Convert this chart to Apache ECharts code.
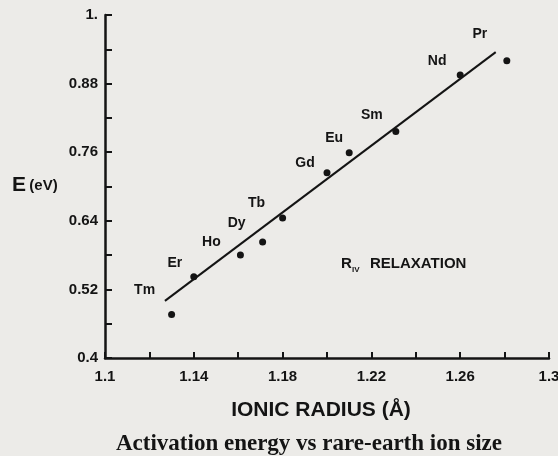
<!DOCTYPE html>
<html>
<head>
<meta charset="utf-8">
<title>Activation energy vs rare-earth ion size</title>
<script src="https://cdn.jsdelivr.net/npm/echarts@6.0.0/dist/echarts.min.js"></script>
<style>
  html, body { margin: 0; padding: 0; background: #ecebe8; }
  #chart { width: 558px; height: 456px; }
</style>
</head>
<body>
<div id="chart"></div>
<script>
// rare-earth ions, left to right along the fit
var ions = ['Tm', 'Er', 'Ho', 'Dy', 'Tb', 'Gd', 'Eu', 'Sm', 'Nd', 'Pr'];
// ionic radius (Å)
var radius = [1.130, 1.140, 1.161, 1.171, 1.180, 1.200, 1.210, 1.231, 1.260, 1.281];
// activation energy E (eV)
var energy = [0.476, 0.542, 0.580, 0.603, 0.645, 0.724, 0.759, 0.796, 0.895, 0.920];
// straight fit, its two end points
var fitRadius = [1.127, 1.276];
var fitEnergy = [0.500, 0.935];
// labelled ticks
var xTicks = [1.1, 1.14, 1.18, 1.22, 1.26, 1.3];
var yTicks = [0.4, 0.52, 0.64, 0.76, 0.88, 1];

// where each ion name sits from its dot (px)
var labelOffset = [[-27, -24], [-19, -14], [-29, -13], [-26, -19], [-26, -15],
                   [-22, -10], [-15, -15], [-24, -16], [-23, -14], [-27, -27]];

var ink = '#141414';
var font = '"Liberation Sans", Arial, sans-serif';

// axes run in hundredths from the lowest tick so the tick steps stay whole numbers
var X0 = xTicks[0], Y0 = yTicks[0];
function sx(v) { return Math.round((v - X0) * 100000) / 1000; }
function sy(v) { return Math.round((v - Y0) * 100000) / 1000; }

function tickText(list, base, v) {
  var real = Math.round((base + v / 100) * 100) / 100;
  for (var i = 0; i < list.length; i++) {
    if (Math.abs(list[i] - real) < 1e-6) {
      return real === 1 ? '1.' : String(real);
    }
  }
  return '';
}

var chart = echarts.init(document.getElementById('chart'), null, { renderer: 'canvas' });

var points = ions.map(function (name, i) {
  return {
    name: name,
    value: [sx(radius[i]), sy(energy[i])],
    label: { offset: labelOffset[i] }
  };
});

chart.setOption({
  backgroundColor: '#ecebe8',
  animation: false,
  grid: { left: 105, right: 9, top: 15, bottom: 98, containLabel: false, outerBoundsMode: 'none' },
  xAxis: {
    type: 'value',
    min: 0,
    max: sx(xTicks[xTicks.length - 1]),
    interval: 2,
    axisLine: { show: true, onZero: false, lineStyle: { color: ink, width: 2.5 } },
    axisTick: { show: true, inside: true, length: 6, lineStyle: { color: ink, width: 2 } },
    splitLine: { show: false },
    axisLabel: {
      showMinLabel: true, showMaxLabel: true,
      margin: 11,
      color: ink, fontSize: 15, fontWeight: 'bold', fontFamily: font,
      formatter: function (v) { return tickText(xTicks, X0, v); }
    }
  },
  yAxis: {
    type: 'value',
    min: 0,
    max: sy(yTicks[yTicks.length - 1]),
    interval: 6,
    axisLine: { show: true, onZero: false, lineStyle: { color: ink, width: 2.5 } },
    axisTick: { show: true, inside: true, length: 7, lineStyle: { color: ink, width: 2 } },
    splitLine: { show: false },
    axisLabel: {
      showMinLabel: true, showMaxLabel: true,
      margin: 7,
      color: ink, fontSize: 15, fontWeight: 'bold', fontFamily: font,
      formatter: function (v) { return tickText(yTicks, Y0, v); }
    }
  },
  series: [
    {
      name: 'fit',
      type: 'line',
      showSymbol: false,
      silent: true,
      lineStyle: { color: ink, width: 2 },
      data: fitRadius.map(function (r, i) { return [sx(r), sy(fitEnergy[i])]; })
    },
    {
      name: 'ions',
      type: 'scatter',
      symbol: 'circle',
      symbolSize: 7,
      itemStyle: { color: ink, opacity: 1 },
      label: {
        show: true,
        position: 'inside',
        formatter: '{b}',
        color: ink, fontSize: 14, fontWeight: 'bold', fontFamily: font
      },
      data: points
    }
  ],
  graphic: [
    {
      type: 'text', left: 12, top: 175,
      style: {
        text: '{e|E} {u|(eV)}',
        rich: {
          e: { fontSize: 21, fontWeight: 'bold', fontFamily: font, fill: ink },
          u: { fontSize: 15, fontWeight: 'bold', fontFamily: font, fill: ink }
        }
      }
    },
    { type: 'text', x: 341, y: 264, style: { text: 'R', fontSize: 15, fontWeight: 'bold', fontFamily: font, fill: ink, verticalAlign: 'middle' } },
    { type: 'text', x: 352, y: 270, style: { text: 'IV', fontSize: 8, fontWeight: 'bold', fontFamily: font, fill: ink, verticalAlign: 'middle' } },
    { type: 'text', x: 370, y: 264, style: { text: 'RELAXATION', fontSize: 15, fontWeight: 'bold', fontFamily: font, fill: ink, verticalAlign: 'middle' } },
    {
      type: 'text', x: 321, y: 410,
      style: { text: 'IONIC RADIUS (Å)', fontSize: 21, fontWeight: 'bold', fontFamily: font, fill: ink, align: 'center', verticalAlign: 'middle' }
    },
    {
      type: 'text', x: 309, y: 444,
      style: { text: 'Activation energy vs rare-earth ion size', fontSize: 23, fontWeight: 'bold', fontFamily: '"Liberation Serif", "Times New Roman", serif', fill: ink, align: 'center', verticalAlign: 'middle' }
    }
  ]
});
</script>
</body>
</html>
